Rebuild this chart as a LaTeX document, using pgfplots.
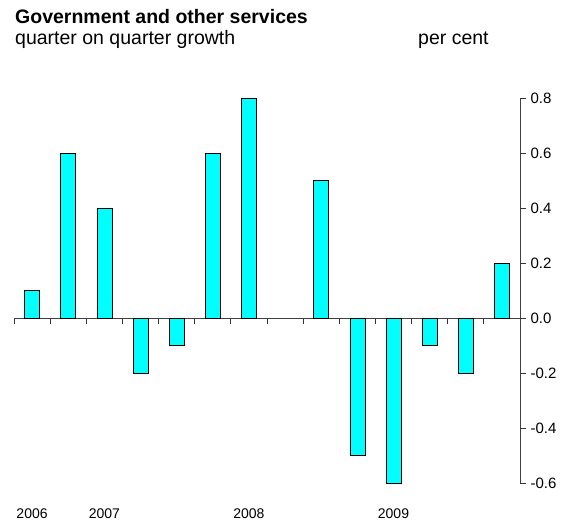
\documentclass[border=0pt]{standalone}
\usepackage{pgfplots}
\pgfplotsset{compat=1.18}
\usepackage{fontspec}
\setmainfont{Liberation Sans}
\definecolor{barcyan}{RGB}{0,255,255}
\begin{document}
\begin{tikzpicture}[x=1pt,y=1pt]
\path[use as bounding box] (-14,-44) rectangle (559,483);
\begin{axis}[at={(0,0)}, anchor=south west, scale only axis,
  width=506pt, height=385pt,
  xmin=-0.5, xmax=13.5, ymin=-0.6, ymax=0.8,
  axis x line=middle, axis y line=right,
  axis line style={-, black!75, line width=0.8pt},
  hide obscured x ticks=false, hide obscured y ticks=false,
  xtick={-0.5,0.5,1.5,2.5,3.5,4.5,5.5,6.5,7.5,8.5,9.5,10.5,11.5,12.5,13.5},
  xticklabels={},
  ytick={-0.6,-0.4,-0.2,0,0.2,0.4,0.6,0.8},
  tick align=outside, major tick length=6pt,
  tick style={black!80, line width=0.8pt},
  yticklabel style={font=\fontsize{15}{17}\selectfont, xshift=1pt, /pgf/number format/.cd, fixed, fixed zerofill, precision=1, assume math mode=true},
  clip=false,
  ybar, bar width=15pt,
]
\addplot[fill=barcyan, draw=black, line width=0.6pt] coordinates {
(0,0.1) (1,0.6) (2,0.4) (3,-0.2) (4,-0.1) (5,0.6) (6,0.8) (8,0.5) (9,-0.5) (10,-0.6) (11,-0.1) (12,-0.2) (13,0.2)
};
\node[anchor=base, font=\fontsize{14}{16}\selectfont] at ([yshift=-36pt]axis cs:0,-0.6) {2006};
\node[anchor=base, font=\fontsize{14}{16}\selectfont] at ([yshift=-36pt]axis cs:2,-0.6) {2007};
\node[anchor=base, font=\fontsize{14}{16}\selectfont] at ([yshift=-36pt]axis cs:6,-0.6) {2008};
\node[anchor=base, font=\fontsize{14}{16}\selectfont] at ([yshift=-36pt]axis cs:10,-0.6) {2009};
\end{axis}
\node[anchor=base west, inner sep=0, font=\bfseries\fontsize{19.5}{23}\selectfont] at (1,459) {Government and other services};
\node[anchor=base west, inner sep=0, font=\fontsize{19.5}{23}\selectfont] at (1,438) {quarter on quarter growth};
\node[anchor=base west, inner sep=0, font=\fontsize{19.5}{23}\selectfont] at (404,438) {per cent};
\end{tikzpicture}
\end{document}
